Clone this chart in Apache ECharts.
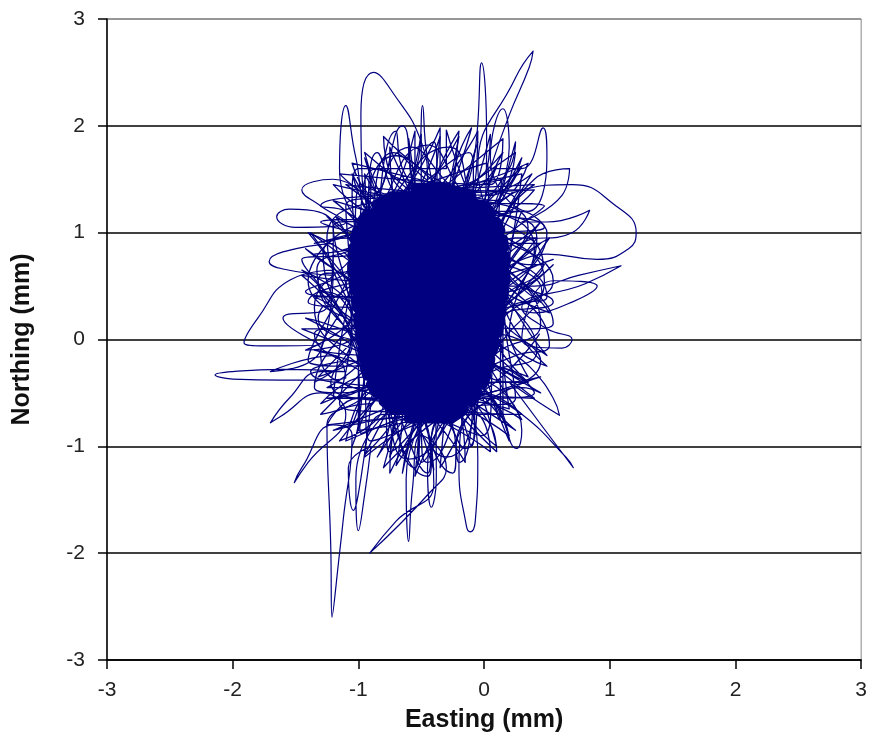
<!DOCTYPE html>
<html>
<head>
<meta charset="utf-8">
<script src="https://cdn.jsdelivr.net/npm/echarts@6/dist/echarts.min.js"></script>
<style>
  html, body { margin: 0; padding: 0; background: #fff; }
  #chart { width: 870px; height: 738px; }
</style>
</head>
<body>
<div id="chart"></div>
<script>
// axis ticks (mm)
var xTicks = [-3, -2, -1, 0, 1, 2, 3];
var yTicks = [-3, -2, -1, 0, 1, 2, 3];

// solid dark centre of the trace
var coreTrace = [
  [-0.55,1.42],[-0.30,1.42],[-0.10,1.34],[-0.74,1.34],[-0.86,1.26],[0.00,1.26],
  [0.06,1.18],[-0.93,1.18],[-0.98,1.10],[0.10,1.10],[0.13,1.02],[-1.01,1.02],
  [-1.03,0.94],[0.15,0.94],[0.16,0.86],[-1.04,0.86],[-1.05,0.78],[0.17,0.78],
  [0.17,0.70],[-1.05,0.70],[-1.05,0.62],[0.17,0.62],[0.17,0.54],[-1.04,0.54],
  [-1.03,0.46],[0.16,0.46],[0.15,0.38],[-1.02,0.38],[-1.01,0.30],[0.14,0.30],
  [0.13,0.22],[-1.00,0.22],[-1.00,0.14],[0.12,0.14],[0.11,0.06],[-0.99,0.06],
  [-0.98,-0.02],[0.09,-0.02],[0.07,-0.10],[-0.97,-0.10],[-0.96,-0.18],[0.05,-0.18],
  [0.04,-0.26],[-0.95,-0.26],[-0.93,-0.34],[0.02,-0.34],[-0.01,-0.42],[-0.90,-0.42],
  [-0.86,-0.50],[-0.05,-0.50],[-0.10,-0.58],[-0.80,-0.58],[-0.72,-0.66],[-0.16,-0.66],
  [-0.26,-0.74],[-0.60,-0.74]
];

// dense scribble band round the centre, spokes in and out
var ringTrace = [
  [-0.42,0.35],[-0.60,1.88],[-0.30,0.90],[0.45,0.90],[-0.50,0.10],[-1.32,-0.35],[-0.70,0.40],[0.30,1.62],[-0.20,0.60],
  [-0.95,-1.08],[-0.55,-0.30],[-1.40,0.55],[-0.90,1.10],[0.10,-1.00],[-0.30,-0.20],[-0.20,1.95],[-0.45,1.20],
  [0.52,0.25],[0.10,0.70],[-1.20,1.30],[-0.80,0.70],[-0.40,-1.22],[-0.60,-0.50],[0.40,-0.55],[-0.10,-0.10],
  [-1.38,1.00],[-1.00,0.50],[-0.85,1.75],[-0.60,1.30],[0.48,1.25],[0.00,0.80],[-1.30,-0.70],[-0.85,-0.40],
  [-0.05,1.85],[-0.15,1.30],[0.55,0.55],[0.15,0.20],[-0.70,-1.18],[-0.65,-0.70],[-1.42,0.20],[-0.95,0.00],
  [0.25,-0.85],[-0.05,-0.45],[-1.05,1.55],[-0.75,1.05],[0.15,1.75],[0.00,1.20],[0.50,-0.15],[0.10,0.05],
  [-1.15,-0.95],[-0.80,-0.60],[-1.45,0.75],[-1.00,0.80],[-0.35,1.90],[-0.40,1.40],[0.40,1.45],[0.10,1.00],
  [-0.20,-1.15],[-0.30,-0.70],[-1.35,-0.10],[-0.90,-0.15],[0.55,0.70],[0.20,0.45],[-0.75,1.80],[-0.70,1.20],
  [0.35,-0.40],[0.05,-0.20],[-1.25,1.15],[-0.95,0.75],[-0.55,-1.20],[-0.45,-0.60],[0.45,1.10],[0.15,0.85],
  [-1.40,0.35],[-1.00,0.30],[-0.10,1.98],[-0.25,1.45],[0.20,-0.95],[0.00,-0.55],[-1.25,-0.55],[-0.90,-0.40],
  [0.30,1.70],[0.05,1.35],[-1.10,1.45],[-0.85,1.25],[0.50,0.40],[0.20,0.30],[-0.85,-1.10],[-0.75,-0.75],
  [-1.45,0.60],[-1.05,0.55],[-0.50,1.92],[-0.50,1.50],[0.52,-0.05],[0.25,-0.15],[-1.20,-0.85],[-0.95,-0.70],
  [0.38,1.55],[0.15,1.40],[-1.35,0.90],[-1.10,0.95],[-0.25,-1.25],[-0.20,-0.85],[0.45,-0.35],[0.20,-0.40],
  [-0.95,1.70],[-0.90,1.45],[-1.40,-0.20],[-1.10,-0.25],[0.42,0.95],[0.25,0.95],[-0.65,-1.25],[-0.60,-0.95],
  [0.05,1.92],[0.00,1.55],[-1.30,1.25],[-1.10,1.20],[0.30,-0.75],[0.15,-0.65],[-1.45,0.10],[-1.15,0.10],
  [0.50,1.00],[0.30,1.20],[-1.05,-1.00],[-1.00,-0.80],[-0.70,1.95],[-0.65,1.60],[0.55,0.15],[0.35,0.10],
  [-1.30,0.45],[-1.15,0.40],[-0.45,-1.28],[-0.40,-0.95],[0.25,1.85],[0.20,1.60],[-1.35,-0.45],[-1.15,-0.50],
  [0.48,0.70],[0.35,0.70],[-0.30,1.96],[-0.30,1.60],[-1.00,1.60],[-1.05,1.35],[0.10,-1.05],[0.05,-0.80],
  [-1.42,0.85],[-1.25,0.70],[0.45,-0.50],[0.30,-0.45],[-0.80,-1.20],[-0.45,0.30]
];

// looping scribble that runs round the edge of the centre
var bandTrace = [
  [0.45,0.35],[0.05,0.95],[0.02,1.65],[-0.75,1.35],[-1.10,1.25],[-1.05,0.20],[-1.15,-0.60],[-0.45,-0.72],
  [-0.02,-0.90],[0.12,0.15],[0.40,0.85],[-0.25,1.42],[-0.58,1.80],[-1.00,0.85],[-1.35,0.30],[-0.85,-0.45],
  [-0.60,-1.12],[0.00,-0.35],[0.42,-0.10],[0.08,0.70],[0.25,1.30],[-0.55,1.45],[-0.85,1.60],[-1.07,0.45],
  [-1.30,-0.15],[-0.65,-0.68],[-0.30,-1.10],[0.10,-0.10],[0.48,0.55],[-0.05,1.20],[-0.28,1.80],[-0.95,1.05],
  [-1.28,0.80],[-0.98,-0.20],[-0.90,-0.95],[-0.20,-0.65],[0.25,-0.55],[0.15,0.50],
  [0.35,1.05],[-0.40,1.45],[-0.72,1.75],[-1.02,0.70],[-1.32,0.55],[-0.95,-0.30],[-1.05,-0.80],[-0.40,-0.70],
  [-0.15,-1.02],[0.05,-0.20],[0.45,0.15],[-0.05,1.10],[-0.12,1.75],[-0.88,1.15],[-1.20,1.05],[-1.05,0.05],
  [-1.22,-0.40],[-0.55,-0.72],[-0.45,-1.15],[0.06,-0.25],[0.35,-0.35],[0.10,0.60],[0.14,1.50],[-0.70,1.35],
  [-0.98,1.45],[-1.07,0.15],[-1.35,0.05],[-0.80,-0.55],[-0.75,-1.05],[-0.05,-0.45],[0.12,-0.75],[0.14,0.30],
  [0.47,0.70],[-0.15,1.35],[-0.45,1.82],[-1.00,0.90],[-1.33,0.65],[-1.00,-0.25],[-0.98,-0.88],[-0.28,-0.68],
  [0.15,-0.70],[0.15,0.40],
  [0.30,1.20],[-0.60,1.20],[-0.95,1.55],[-0.90,0.40],[-1.35,0.40],[-0.70,-0.40],[-0.75,-1.10],[-0.20,-0.40],
  [0.35,-0.40],[-0.10,0.60],[0.10,1.62],[-0.70,0.95],[-1.18,1.15],[-0.85,0.10],[-1.25,-0.45],[-0.40,-0.45],
  [-0.10,-1.00],[-0.05,0.10],[0.46,0.45],[-0.35,1.10],[-0.40,1.85],[-0.95,0.65],[-1.32,0.20],[-0.55,-0.30],
  [-0.50,-1.15],[0.00,0.00],[0.42,0.95],[-0.20,1.30],[-0.70,1.72],[-1.05,0.50],[-1.20,-0.55],[-0.35,-0.55],
  [0.20,-0.65],[0.10,0.80],[0.28,1.40],[-0.80,1.30],[-1.25,0.95],[-1.00,-0.10],[-1.00,-0.85],[-0.10,-0.55],
  [0.44,0.05]
];

// extra short loops in the thickest part of the fringe
var fringeTrace = [
  [-0.40,1.20],[-0.95,1.75],[-0.70,1.25],[-0.20,1.90],[-0.30,1.30],[0.25,1.75],[0.00,1.25],[-1.20,1.45],
  [-0.90,1.20],[-0.55,1.95],[-0.55,1.35],[0.40,1.40],[0.05,1.15],[-1.30,1.10],[-0.95,1.00],[-0.05,1.95],
  [-0.10,1.40],[-1.05,1.65],[-0.80,1.30],[0.35,1.65],[0.10,1.30],[-0.80,1.90],[-0.65,1.40],[0.48,1.05],
  [0.15,1.00],[-1.35,0.80],[-1.00,0.90],[-0.35,1.98],[-0.35,1.40],[0.15,1.88],[0.05,1.45],[-1.15,1.55],
  [-0.90,1.35],[-0.65,2.00],[-0.50,1.40],[0.30,1.55],
  [0.00,-0.30],[-0.35,-1.20],[-0.30,-0.55],[-1.10,-0.95],[-0.80,-0.40],[0.20,-0.90],[-0.10,-0.40],
  [-0.75,-1.25],[-0.65,-0.60],[0.40,-0.50],[0.05,-0.25],[-1.30,-0.60],[-0.95,-0.35],[-0.15,-1.15],
  [-0.25,-0.60],[-0.95,-1.10],[-0.80,-0.70],[0.30,-0.70],[0.00,-0.50],[-0.55,-1.28],[-0.50,-0.70],
  [-1.25,-0.80],[-1.00,-0.55],[0.05,-1.05],[-0.10,-0.65],[-1.38,-0.30],[-1.05,-0.20],[-0.45,-1.25],
  [-0.40,-0.80],[0.45,-0.20],
  [0.15,0.20],[0.55,0.35],[0.20,0.60],[0.52,0.95],[0.20,0.05],[0.50,-0.25],[0.15,0.40],[0.55,0.75],
  [-1.00,0.40],[-1.42,0.45],[-1.05,0.70],[-1.40,1.00],[-1.00,0.10],[-1.42,-0.10],[-1.05,0.25],
  [-1.45,0.65],[-1.05,-0.05],[-1.35,-0.40]
];

// the long excursions that stand out from the cloud
var outerTrace = [
  [-0.50,0.50],[-0.97,1.50],[-0.98,2.10],[-0.88,2.50],[-0.72,2.30],[-0.50,1.85],[-0.45,1.50],
  [-0.80,1.00],[-1.15,1.60],[-1.10,2.19],[-1.02,1.70],[-0.90,1.20],
  [-0.52,1.70],[-0.49,2.19],[-0.45,1.70],[-0.30,1.20],
  [-0.08,1.70],[-0.02,2.59],[0.02,1.90],[0.00,1.30],
  [-0.05,1.60],[0.25,2.45],[0.39,2.70],[0.36,2.55],[0.20,2.10],[0.05,1.60],
  [0.30,1.60],[0.47,1.98],[0.50,1.70],[0.35,1.20],
  [0.05,1.70],[0.15,2.16],[0.20,1.80],[0.00,1.10],
  [0.30,1.40],[0.70,1.45],[1.05,1.25],[1.21,1.00],[1.15,0.85],[0.90,0.75],[0.50,0.80],
  [0.00,0.50],[0.40,0.50],[0.75,0.60],[1.09,0.69],[0.80,0.52],[0.30,0.30],
  [0.50,0.10],[0.70,0.00],[0.62,-0.08],[0.30,0.00],
  [0.55,0.55],[0.90,0.50],[0.70,0.35],[0.40,0.25],
  [0.10,0.80],[0.40,1.50],[0.68,1.60],[0.62,1.35],[0.30,1.10],
  [0.50,1.10],[0.84,1.21],[0.70,1.00],[0.30,0.90],
  [0.00,0.20],[0.40,-0.30],[0.55,-0.55],[0.60,-0.71],[0.45,-0.60],
  [0.20,-0.40],[0.55,-0.95],[0.71,-1.20],[0.65,-1.10],[0.30,-0.70],[0.00,-0.50],
  [0.10,-0.60],[0.26,-1.02],[0.30,-0.85],[0.00,-0.40],
  [-0.20,-1.20],[-0.14,-1.75],[-0.11,-1.80],[-0.07,-1.70],[-0.05,-1.10],[-0.20,-0.50],
  [-0.45,-1.20],[-0.42,-1.57],[-0.38,-1.30],[-0.40,-0.60],
  [-0.62,-1.30],[-0.60,-1.89],[-0.57,-1.40],[-0.50,-0.90],
  [-0.30,-1.20],[-0.43,-1.43],[-0.91,-2.00],[-0.70,-1.70],[-0.40,-1.35],[-0.60,-0.60],
  [-1.02,-1.30],[-1.00,-1.79],[-0.95,-1.45],[-0.90,-1.00],
  [-1.08,-1.20],[-1.04,-1.60],[-0.98,-1.30],[-0.90,-0.60],
  [-1.25,-0.80],[-1.22,-1.93],[-1.21,-2.60],[-1.15,-2.00],[-1.12,-1.68],[-1.05,-0.90],
  [-1.20,-0.80],[-1.45,-1.20],[-1.51,-1.34],[-1.40,-1.15],[-1.10,-0.70],
  [-1.30,-0.50],[-1.62,-0.72],[-1.70,-0.78],[-1.55,-0.55],[-1.30,-0.30],
  [-1.10,-0.30],[-1.60,-0.28],[-2.00,-0.30],[-2.14,-0.33],[-2.00,-0.37],[-1.60,-0.38],[-1.10,-0.36],
  [-1.20,-0.15],[-1.70,-0.30],[-1.30,-0.10],
  [-1.20,0.65],[-1.54,0.56],[-1.80,0.20],[-1.91,-0.03],[-1.75,-0.06],[-1.30,-0.05],
  [-1.60,0.20],[-1.25,0.30],
  [-1.20,0.90],[-1.60,0.82],[-1.71,0.73],[-1.60,0.66],[-1.20,0.60],
  [-1.20,1.05],[-1.55,1.22],[-1.65,1.15],[-1.50,1.05],[-1.10,1.10],
  [-1.30,1.25],[-1.45,1.40],[-1.20,1.50],[-0.60,0.60]
];

var font = 'Liberation Sans, Arial, sans-serif';
var navy = '#000080';

var chart = echarts.init(document.getElementById('chart'));

function traceSeries(name, data, width, smooth) {
  return {
    name: name,
    type: 'line',
    data: data,
    symbol: 'none',
    smooth: smooth,
    animation: false,
    silent: true,
    lineStyle: { color: navy, width: width, join: 'round', cap: 'round' }
  };
}

chart.setOption({
  backgroundColor: '#fff',
  grid: {
    left: 107, right: 8, top: 19, bottom: 77,
    show: true, borderColor: '#888', borderWidth: 1
  },
  xAxis: {
    type: 'value',
    min: xTicks[0],
    max: xTicks[xTicks.length - 1],
    interval: 1,
    name: 'Easting (mm)',
    nameLocation: 'middle',
    nameGap: 48,
    nameTextStyle: { fontFamily: font, fontWeight: 'bold', fontSize: 25, color: '#111' },
    axisLine: { onZero: false, lineStyle: { color: '#000', width: 1.5 } },
    axisTick: { length: 9, lineStyle: { color: '#000', width: 1.5 } },
    axisLabel: { fontFamily: font, fontSize: 21, color: '#222', margin: 20 },
    splitLine: { show: false }
  },
  yAxis: {
    type: 'value',
    min: yTicks[0],
    max: yTicks[yTicks.length - 1],
    interval: 1,
    name: 'Northing (mm)',
    nameLocation: 'middle',
    nameGap: 72,
    nameTextStyle: { fontFamily: font, fontWeight: 'bold', fontSize: 25, color: '#111' },
    axisLine: { onZero: false, lineStyle: { color: '#000', width: 1.5 } },
    axisTick: { length: 9, lineStyle: { color: '#000', width: 1.5 } },
    axisLabel: { fontFamily: font, fontSize: 21, color: '#222', margin: 22 },
    splitLine: {
      show: true,
      lineStyle: { color: ['#000', '#000', '#000', '#000', '#000', '#000', '#888'], width: 1.5 }
    }
  },
  series: [
    traceSeries('ring', ringTrace, 1.3, 0.5),
    traceSeries('band', bandTrace, 1.3, 0.5),
    traceSeries('fringe', fringeTrace, 1.3, 0.5),
    traceSeries('core', coreTrace, 10, false),
    traceSeries('outer', outerTrace, 1.2, 0.5)
  ]
});
</script>
</body>
</html>
